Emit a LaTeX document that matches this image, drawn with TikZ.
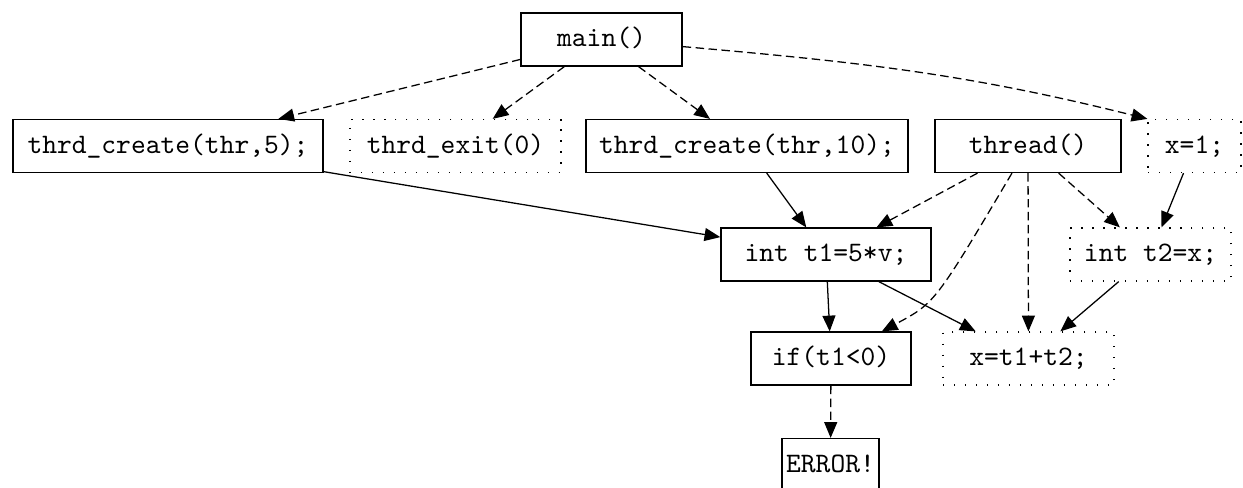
\documentclass[tikz,border=0pt]{standalone}
\usetikzlibrary{arrows.meta}
\begin{document}
\begin{tikzpicture}[x=0.355pt,y=0.355pt,
  box/.style={draw,line width=0.45pt,inner sep=0pt,minimum height=18.8pt,
    font=\ttfamily\fontsize{10}{12}\selectfont,text height=7.5pt,text depth=2.5pt},
  dotbox/.style={box,dash pattern=on 0.5pt off 3.4pt},
  edge/.style={line width=0.45pt,-{Triangle[length=5.6pt,width=4.6pt]}},
  dedge/.style={edge,dash pattern=on 3pt off 1.6pt}]
\useasboundingbox (0,0) rectangle (1243,-487);
\node[box,minimum width=57.2pt] (main) at (601.5,-39.5) {main()};
\node[box,minimum width=110.1pt] (tc5) at (168,-146) {thrd\_create(thr,5);};
\node[dotbox,minimum width=74.9pt] (texit) at (455.5,-146) {thrd\_exit(0)};
\node[box,minimum width=114.3pt] (tc10) at (747,-146) {thrd\_create(thr,10);};
\node[box,minimum width=66pt] (thread) at (1028,-146) {thread()};
\node[dotbox,minimum width=33pt] (x1) at (1194.5,-146) {x=1;};
\node[box,minimum width=74.6pt] (t1) at (826,-254.5) {int t1=5*v;};
\node[dotbox,minimum width=57.2pt] (t2) at (1150.5,-254.5) {int t2=x;};
\node[box,minimum width=56.8pt] (if) at (831,-358.5) {if(t1<0)};
\node[dotbox,minimum width=60.7pt] (xsum) at (1028.5,-358.5) {x=t1+t2;};
\node[box,minimum width=34.4pt] (err) at (830.5,-465) {ERROR!};
\coordinate (bend) at (935,-303);
\draw[dedge] (main) -- (tc5);
\draw[dedge] (main) -- (texit);
\draw[dedge] (main) -- (tc10);
\draw[dedge] (main) to[out=-5,in=166] (x1.north west);
\draw[edge] (tc5) -- (t1);
\draw[edge] (tc10) -- (t1);
\draw[dedge] (thread) -- (t1);
\draw[dedge] (thread) .. controls (bend) .. (if);
\draw[dedge] (thread) -- (xsum);
\draw[dedge] (thread) -- (t2);
\draw[edge] (x1) -- (t2);
\draw[edge] (t1) -- (if);
\draw[edge] (t1) -- (xsum);
\draw[edge] (t2) -- (xsum);
\draw[dedge] (if) -- (err);
\end{tikzpicture}
\end{document}
